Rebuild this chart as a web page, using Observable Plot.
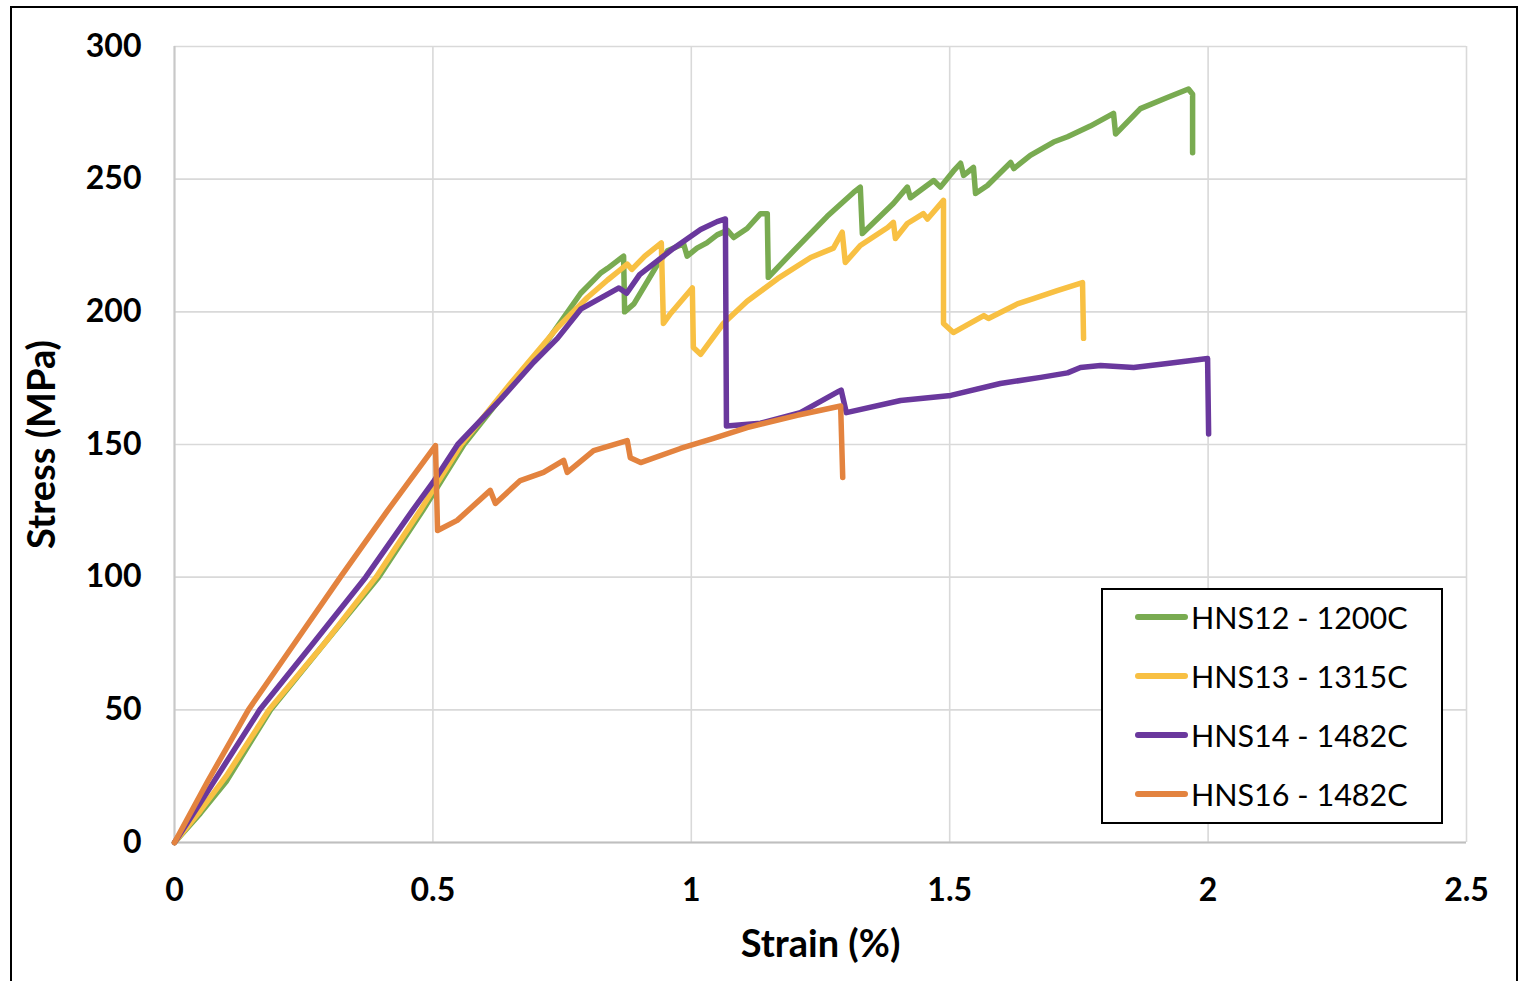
<!DOCTYPE html>
<html>
<head>
<meta charset="utf-8">
<script src="https://cdn.jsdelivr.net/npm/d3@7"></script>
<script src="https://cdn.jsdelivr.net/npm/@observablehq/plot@0.6"></script>
<style>
  html, body { margin: 0; padding: 0; background: #fff; }
  #wrap { position: relative; width: 1519px; height: 981px; overflow: hidden; font-family: Lato, "Open Sans", sans-serif; }
  #frame { position: absolute; left: 10px; top: 6px; width: 1508px; height: 990px; border: 2px solid #000; box-sizing: border-box; pointer-events: none; }
  #chart { position: absolute; left: 0; top: 0; }
  #legend { position: absolute; left: 1101px; top: 588px; width: 342px; height: 236px; border: 2px solid #000; box-sizing: border-box; background: #fff; }
  .item { position: absolute; left: 32px; height: 40px; display: flex; align-items: center; }
  .swatch { width: 53px; height: 5.5px; border-radius: 3px; margin-right: 3px; }
  .lab { font-size: 30.5px; color: #000; white-space: nowrap; }
</style>
</head>
<body>
<div id="wrap">
  <div id="chart"></div>
  <div id="frame"></div>
  <div id="legend"></div>
</div>
<script>
// ---- data ----
const seriesNames = ["HNS12 - 1200C", "HNS13 - 1315C", "HNS14 - 1482C", "HNS16 - 1482C"];
const seriesColors = ["#79ab51", "#f8c043", "#6a389d", "#e3833f"];
const xTicks = [0, 0.5, 1, 1.5, 2, 2.5];
const yTicks = [0, 50, 100, 150, 200, 250, 300];
const xTitle = "Strain (%)";
const yTitle = "Stress (MPa)";

const hns12Strain = [0, 0.05, 0.1, 0.186, 0.29, 0.395, 0.48, 0.56, 0.65, 0.714, 0.75, 0.786, 0.824, 0.838, 0.869, 0.871, 0.889, 0.935, 0.954, 0.985, 0.992, 1.011, 1.03, 1.05, 1.07, 1.082, 1.108, 1.134, 1.147, 1.149, 1.198, 1.263, 1.314, 1.327, 1.331, 1.391, 1.418, 1.424, 1.469, 1.482, 1.507, 1.521, 1.527, 1.546, 1.55, 1.573, 1.618, 1.624, 1.656, 1.701, 1.728, 1.772, 1.817, 1.821, 1.869, 1.921, 1.962, 1.97, 1.97];
const hns12Stress = [0, 11, 23, 50, 75, 100, 125, 150, 172, 187, 197, 207, 214.5, 216.4, 221, 200, 203, 218, 223, 225.7, 221, 224, 226, 229, 230.7, 228, 231.4, 237, 237, 213, 223, 236, 245, 247, 229.5, 240.8, 247, 243, 249.5, 247, 253, 256, 251.4, 254.4, 244.6, 247.6, 256.3, 254, 259, 264, 266, 270, 274.8, 267, 276.6, 280.8, 284, 282, 260];

const hns13Strain = [0, 0.05, 0.1, 0.183, 0.29, 0.39, 0.475, 0.555, 0.65, 0.741, 0.799, 0.838, 0.857, 0.876, 0.885, 0.91, 0.942, 0.946, 0.96, 1.002, 1.004, 1.018, 1.062, 1.108, 1.167, 1.231, 1.275, 1.292, 1.298, 1.327, 1.38, 1.391, 1.395, 1.418, 1.449, 1.457, 1.488, 1.488, 1.507, 1.566, 1.575, 1.631, 1.662, 1.708, 1.757, 1.759];
const hns13Stress = [0, 12, 25, 50, 75, 100, 125, 150, 173, 194, 205.4, 212, 215, 218, 216, 221, 226, 195.6, 199.4, 209, 186.6, 184, 195.6, 204, 212.5, 220.5, 224, 230, 218.6, 225, 231.8, 233.7, 227.6, 233.3, 237, 235, 242, 195.6, 192.2, 198.6, 197.5, 203, 205, 208, 211, 190];

const hns14Strain = [0, 0.05, 0.165, 0.268, 0.37, 0.46, 0.501, 0.548, 0.631, 0.695, 0.741, 0.786, 0.86, 0.875, 0.9, 0.966, 1.018, 1.05, 1.066, 1.068, 1.134, 1.211, 1.285, 1.29, 1.3, 1.405, 1.502, 1.598, 1.676, 1.728, 1.753, 1.792, 1.856, 1.921, 1.999, 2.001];
const hns14Stress = [0, 15, 50, 75, 100, 125, 136, 150, 167, 181, 190, 201, 209, 207, 214, 224, 231, 234, 235, 157, 158, 162, 170, 170.5, 162, 166.6, 168.5, 173, 175.3, 177, 179, 179.8, 179, 180.5, 182.4, 154];

const hns16Strain = [0, 0.064, 0.143, 0.232, 0.321, 0.412, 0.505, 0.509, 0.547, 0.611, 0.621, 0.669, 0.714, 0.753, 0.76, 0.811, 0.876, 0.882, 0.902, 0.979, 1.043, 1.108, 1.205, 1.289, 1.293];
const hns16Stress = [0, 23, 50, 75, 100, 125, 149.6, 117.6, 121.4, 132.7, 127.8, 136.4, 139.5, 144, 139.5, 147.7, 151.5, 145, 143.2, 148.5, 152.3, 156.4, 161, 164.5, 137.6];

// ---- build table ----
const allStrain = [hns12Strain, hns13Strain, hns14Strain, hns16Strain];
const allStress = [hns12Stress, hns13Stress, hns14Stress, hns16Stress];
const rows = [];
seriesNames.forEach((name, i) => {
  allStrain[i].forEach((s, j) => rows.push({series: name, strain: s, stress: allStress[i][j]}));
});

const chart = Plot.plot({
  width: 1519,
  height: 981,
  marginLeft: 174,
  marginRight: 53,
  marginTop: 46,
  marginBottom: 139,
  style: {fontFamily: "Lato, 'Open Sans', sans-serif", background: "transparent", overflow: "visible"},
  x: {domain: [0, 2.5]},
  y: {domain: [0, 300]},
  color: {domain: seriesNames, range: seriesColors},
  marks: [
    Plot.gridX(xTicks, {stroke: "#d9d9d9", strokeOpacity: 1, strokeWidth: 1.6}),
    Plot.gridY(yTicks, {stroke: "#d9d9d9", strokeOpacity: 1, strokeWidth: 1.6}),
    Plot.ruleX([0], {stroke: "#c8c8c8", strokeWidth: 2}),
    Plot.ruleY([0], {stroke: "#bfbfbf", strokeWidth: 2.2}),
    Plot.axisX(xTicks, {tickSize: 0, tickPadding: 36, fontSize: 32, fontWeight: "bold", fill: "#000",
      tickFormat: d3.format(""), label: null}),
    Plot.axisY(yTicks, {tickSize: 0, tickPadding: 33, fontSize: 32, fontWeight: "bold", fill: "#000", label: null}),
    Plot.text([xTitle], {text: d => d, frameAnchor: "bottom", dy: 102, lineAnchor: "middle", textAnchor: "middle",
      fontSize: 38, fontWeight: "bold", fill: "#000"}),
    Plot.text([yTitle], {text: d => d, frameAnchor: "left", dx: -132, rotate: -90, lineAnchor: "middle", textAnchor: "middle",
      fontSize: 38, fontWeight: "bold", fill: "#000"}),
    Plot.line(rows, {x: "strain", y: "stress", z: "series", stroke: "series", strokeWidth: 5.5,
      strokeLinejoin: "round", strokeLinecap: "round"})
  ]
});
document.getElementById("chart").appendChild(chart);

// ---- legend ----
const legend = document.getElementById("legend");
seriesNames.forEach((name, i) => {
  const item = document.createElement("div");
  item.className = "item";
  item.style.top = (7 + i * 59) + "px";
  const sw = document.createElement("div");
  sw.className = "swatch";
  sw.style.background = seriesColors[i];
  const lab = document.createElement("span");
  lab.className = "lab";
  lab.textContent = name;
  item.appendChild(sw);
  item.appendChild(lab);
  legend.appendChild(item);
});
</script>
</body>
</html>
